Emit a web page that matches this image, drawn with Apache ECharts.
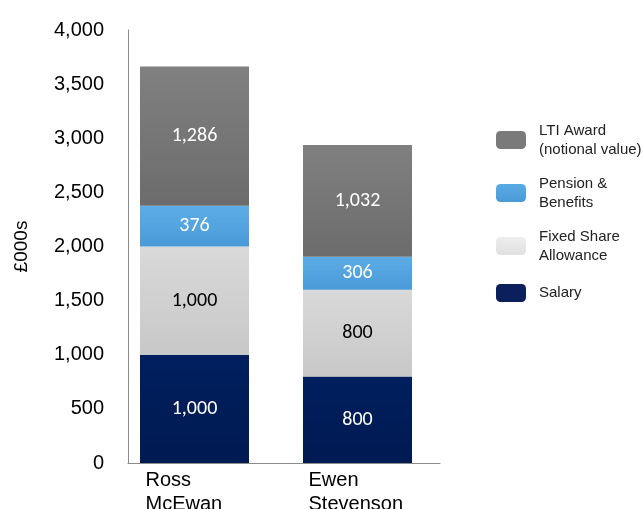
<!DOCTYPE html>
<html><head><meta charset="utf-8">
<script src="https://cdn.jsdelivr.net/npm/echarts@6/dist/echarts.min.js"></script>
<style>html,body{margin:0;padding:0;background:#fff}#c{width:644px;height:509px}</style>
</head><body><div id="c"></div>
<script>
var categories = ['Ross\nMcEwan', 'Ewen\nStevenson'];
var salary = [1000, 800];
var fixedShare = [1000, 800];
var pension = [376, 306];
var lti = [1286, 1032];
var seriesNames = ['Salary', 'Fixed Share\nAllowance', 'Pension &\nBenefits', 'LTI Award\n(notional value)'];
var yTicks = [0, 500, 1000, 1500, 2000, 2500, 3000, 3500, 4000];

function grad(a, b) {
  return {type: 'linear', x: 0, y: 0, x2: 0, y2: 1, colorStops: [{offset: 0, color: a}, {offset: 1, color: b}]};
}
function fmt(v) { return v.toLocaleString('en-US'); }
var labelFont = 'Carlito, Lato, "Liberation Sans", sans-serif';

var chart = echarts.init(document.getElementById('c'));
var styles = [
  {data: salary, color: grad('#001f5e', '#001a52'), label: '#ffffff', legend: '#0b1f5c', lh: 26},
  {data: fixedShare, color: grad('#d9d9d9', '#c8c8c8'), label: '#000000', legend: grad('#eeeeee', '#e0e0e0'), lh: 19},
  {data: pension, color: grad('#5cade6', '#4a9ad8'), label: '#ffffff', legend: grad('#5aabe4', '#4a9ad8'), lh: 19},
  {data: lti, color: grad('#808080', '#6c6c6c'), label: '#ffffff', legend: '#7a7a7a', lh: 19}
];
var series = styles.map(function (s, i) {
  return {
    name: seriesNames[i], type: 'bar', stack: 'total', xAxisIndex: 1, yAxisIndex: 1,
    barWidth: 109, data: s.data,
    itemStyle: {color: s.color},
    label: {show: true, position: 'inside', color: s.label, fontSize: 20, fontFamily: labelFont,
      formatter: function (p) { return fmt(p.value); }}
  };
});

chart.setOption({
  animation: false,
  textStyle: {fontFamily: '"Liberation Sans", Arial, sans-serif'},
  grid: [
    {left: 128, right: 204, top: 30, bottom: 46, outerBoundsMode: 'none'},
    {left: 113, right: 205, top: 30, bottom: 46, outerBoundsMode: 'none'}
  ],
  legend: {
    orient: 'vertical', left: 491, top: 116,
    itemWidth: 30, itemHeight: 18, itemGap: 15,
    textStyle: {fontSize: 15, color: '#222', lineHeight: 19, padding: [0, 0, 0, 8]},
    data: [3, 2, 1, 0].map(function (i) {
      return {name: seriesNames[i], itemStyle: {color: styles[i].legend}, textStyle: {lineHeight: styles[i].lh}};
    })
  },
  xAxis: [
    {type: 'value', gridIndex: 0, min: 0, max: 1, axisLine: {show: true, lineStyle: {color: '#8c8c8c'}},
      axisTick: {show: false}, axisLabel: {show: false}, splitLine: {show: false}},
    {type: 'category', gridIndex: 1, data: categories, axisLine: {show: false}, axisTick: {show: false},
      axisLabel: {margin: 5, color: '#000', fontSize: 20, lineHeight: 24,
        formatter: function (v) { return v.split('\n').map(function (t) { return '{a|' + t + '}'; }).join('\n'); },
        rich: {a: {width: 98, align: 'left', fontSize: 20, lineHeight: 24, color: '#000'}}}}
  ],
  yAxis: [
    {type: 'value', gridIndex: 0, min: yTicks[0], max: yTicks[yTicks.length - 1], interval: 500,
      axisLine: {show: true, lineStyle: {color: '#8c8c8c'}}, axisTick: {show: false}, splitLine: {show: false},
      axisLabel: {color: '#000', fontSize: 20, margin: 24, formatter: function (v) { return fmt(v); }},
      name: '£000s', nameLocation: 'middle', nameGap: 97, nameRotate: 90,
      nameTextStyle: {fontSize: 19, color: '#000'}},
    {type: 'value', gridIndex: 1, min: 0, max: 4000, show: false}
  ],
  series: series
});
</script></body></html>
